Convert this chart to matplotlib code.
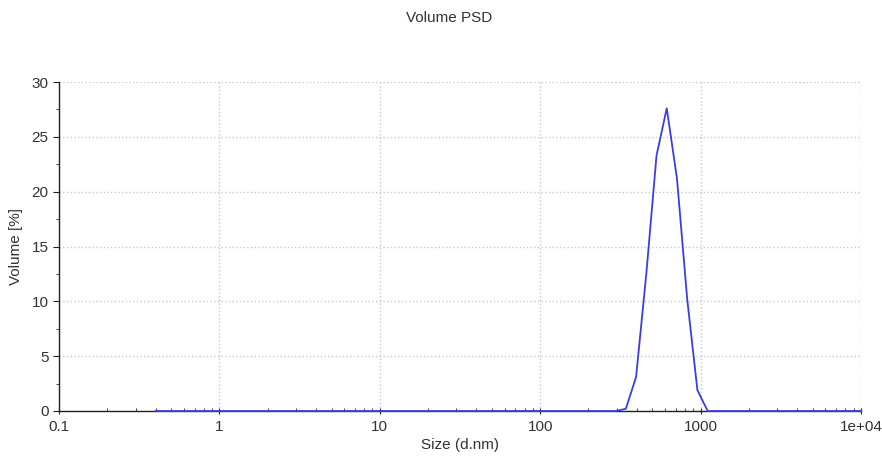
import numpy as np
import matplotlib
matplotlib.use('Agg')
import matplotlib.pyplot as plt
from matplotlib.ticker import FixedLocator, LogLocator, NullFormatter

# -------------------------------
# Data: Zetasizer size bins (0.4 - 10000 nm, 70 bins)
# -------------------------------
n_bins = 70
size_nm = 0.4 * (10000 / 0.4) ** (np.arange(n_bins) / (n_bins - 1))

# non-zero volume values, keyed by bin index
peak_bins = [46, 47, 48, 49, 50, 51, 52, 53]
peak_values = [0.2, 3.1, 12.5, 23.3, 27.6, 21.2, 10.2, 1.9]

volume_pct = np.zeros(n_bins)
volume_pct[peak_bins] = peak_values

x_ticks = [0.1, 1, 10, 100, 1000, 10000]
x_tick_labels = ['0.1', '1', '10', '100', '1000', '1e+04']
y_ticks = [0, 5, 10, 15, 20, 25, 30]

# -------------------------------
# Plot
# -------------------------------
plt.rcParams['font.family'] = ['Liberation Sans', 'DejaVu Sans']
text_col = '#333333'

fig = plt.figure(figsize=(8.82, 4.57), dpi=100)
ax = fig.add_axes([59 / 882, 46 / 457, 802 / 882, 329 / 457])

ax.plot(size_nm, volume_pct, color='#3c3ce6', lw=1.3, clip_on=False, zorder=3)

ax.set_xscale('log')
ax.set_xlim(0.1, 10000)
ax.set_ylim(0, 30)
ax.xaxis.set_major_locator(FixedLocator(x_ticks))
ax.set_xticklabels(x_tick_labels)
ax.xaxis.set_minor_locator(LogLocator(base=10, subs=np.arange(2, 10)))
ax.xaxis.set_minor_formatter(NullFormatter())
ax.set_yticks(y_ticks)
ax.yaxis.set_minor_locator(FixedLocator(np.arange(0, 30.1, 2.5)))

ax.grid(True, which='major', color='#c8c8c8', linestyle=':', linewidth=1)
for side in ['top', 'right']:
    ax.spines[side].set_visible(False)
for side in ['left', 'bottom']:
    ax.spines[side].set_color('#222222')
    ax.spines[side].set_linewidth(1)

ax.tick_params(which='major', length=4, color='#222222', labelsize=11,
               labelcolor=text_col)
ax.tick_params(which='minor', length=2.5, color='#222222')
ax.tick_params(axis='x', which='both', direction='in')
ax.tick_params(axis='x', which='major', direction='inout', length=5, pad=4)

ax.set_xlabel('Size (d.nm)', fontsize=11, color=text_col, labelpad=3)
ax.set_ylabel('Volume [%]', fontsize=11, color=text_col, labelpad=6)
fig.text(449 / 882, 1 - 18 / 457, 'Volume PSD', ha='center', va='center',
         fontsize=11, color=text_col)

fig.savefig('out.png', dpi=100)
